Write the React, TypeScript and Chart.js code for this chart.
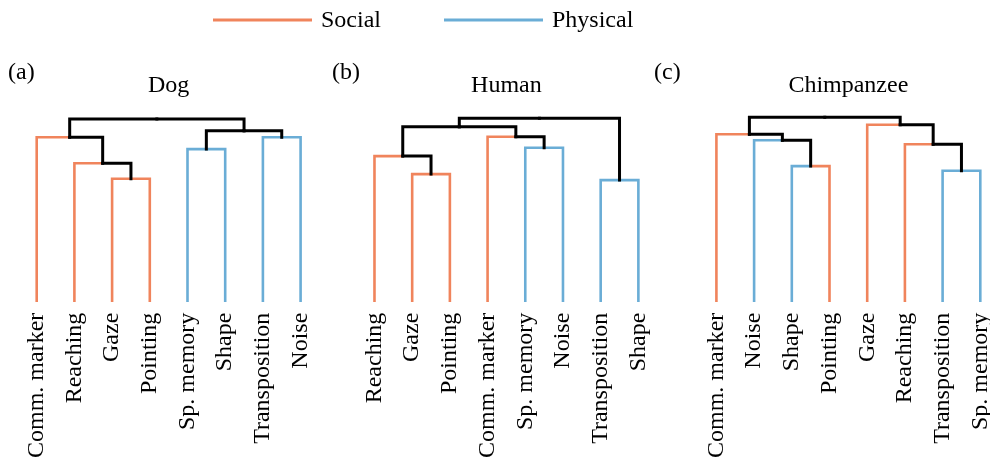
import React, { useEffect, useRef } from "react";
import { Chart, registerables } from "chart.js";

Chart.register(...registerables);

// ---------------- data ----------------
const LEGEND_LABELS = ["Social", "Physical"];
const PANEL_TITLES = ["Dog", "Human", "Chimpanzee"];
const PANEL_TAGS = ["(a)", "(b)", "(c)"];

// leaf order (left to right) and category: 0 = Social, 1 = Physical
const dogLeaves = ["Comm. marker", "Reaching", "Gaze", "Pointing", "Sp. memory", "Shape", "Transposition", "Noise"];
const dogTypes = [0, 0, 0, 0, 1, 1, 1, 1];
// merges: [child A, child B, height]; indices >= 8 refer to earlier merges
const dogMerges = [
  [2, 3, 0.61],
  [1, 8, 0.687],
  [0, 9, 0.817],
  [4, 5, 0.758],
  [6, 7, 0.817],
  [11, 12, 0.85],
  [10, 13, 0.908],
];

const humanLeaves = ["Reaching", "Gaze", "Pointing", "Comm. marker", "Sp. memory", "Noise", "Transposition", "Shape"];
const humanTypes = [0, 0, 0, 0, 1, 1, 1, 1];
const humanMerges = [
  [1, 2, 0.633],
  [0, 8, 0.723],
  [4, 5, 0.765],
  [3, 10, 0.82],
  [9, 11, 0.87],
  [6, 7, 0.603],
  [12, 13, 0.912],
];

const chimpLeaves = ["Comm. marker", "Noise", "Shape", "Pointing", "Gaze", "Reaching", "Transposition", "Sp. memory"];
const chimpTypes = [0, 1, 1, 0, 0, 0, 1, 1];
const chimpMerges = [
  [2, 3, 0.673],
  [1, 8, 0.802],
  [0, 9, 0.832],
  [6, 7, 0.65],
  [5, 11, 0.782],
  [4, 12, 0.88],
  [10, 13, 0.917],
];

// ---------------- style / layout ----------------
const COLORS = ["#F0845C", "#6AADD6"];
const LINK_COLOR = "#000000";
const FONT = "'Liberation Serif', 'Times New Roman', serif";
const FONT_SIZE = 24;
const PANEL_START = [0, 8.96, 18.03];
const TAG_X = [8, 332, 654];
const LEGEND_X = [213, 444];

type Seg = { data: { x: number; y: number }[]; color: string; leaf: boolean };

function buildPanel(leaves: string[], types: number[], merges: number[][], start: number): Seg[] {
  const nodes = leaves.map((_, i) => ({ x: start + i, y: 0, leaf: true, type: types[i] }));
  const segs: Seg[] = [];
  merges.forEach(([a, b, h]) => {
    const A = nodes[a];
    const B = nodes[b];
    const cx = (A.x + B.x) / 2;
    [A, B].forEach((c) => {
      segs.push({
        data: [
          { x: c.x, y: c.y },
          { x: c.x, y: h },
          { x: cx, y: h },
        ],
        color: c.leaf ? COLORS[c.type] : LINK_COLOR,
        leaf: c.leaf,
      });
    });
    nodes.push({ x: cx, y: h, leaf: false, type: -1 });
  });
  return segs;
}

const PANELS = [
  { leaves: dogLeaves, types: dogTypes, merges: dogMerges },
  { leaves: humanLeaves, types: humanTypes, merges: humanMerges },
  { leaves: chimpLeaves, types: chimpTypes, merges: chimpMerges },
];

const LEAF_NAMES: string[] = [];
const LEAF_POS: number[] = [];
PANELS.forEach((p, pi) => {
  p.leaves.forEach((name, i) => {
    LEAF_NAMES.push(name);
    LEAF_POS.push(PANEL_START[pi] + i);
  });
});

const decorPlugin = {
  id: "decor",
  afterDraw(chart: any) {
    const ctx = chart.ctx;
    const xs = chart.scales.x;
    ctx.save();
    ctx.fillStyle = "#000";
    ctx.font = `${FONT_SIZE}px ${FONT}`;
    ctx.textBaseline = "alphabetic";
    // panel titles and tags
    PANELS.forEach((p, pi) => {
      const mid = PANEL_START[pi] + (p.leaves.length - 1) / 2;
      ctx.textAlign = "center";
      ctx.fillText(PANEL_TITLES[pi], xs.getPixelForValue(mid), 92);
      ctx.textAlign = "left";
      ctx.fillText(PANEL_TAGS[pi], TAG_X[pi], 79);
    });
    // legend
    LEGEND_LABELS.forEach((lab, i) => {
      ctx.strokeStyle = COLORS[i];
      ctx.lineWidth = 3;
      ctx.beginPath();
      ctx.moveTo(LEGEND_X[i], 20);
      ctx.lineTo(LEGEND_X[i] + 99, 20);
      ctx.stroke();
      ctx.textAlign = "left";
      ctx.fillText(lab, LEGEND_X[i] + 108, 27);
    });
    ctx.restore();
  },
};

export default function App() {
  const ref = useRef<HTMLCanvasElement | null>(null);
  useEffect(() => {
    if (!ref.current) return;
    const segs: Seg[] = [];
    PANELS.forEach((p, pi) => segs.push(...buildPanel(p.leaves, p.types, p.merges, PANEL_START[pi])));
    const datasets = segs.map((s) => ({
      type: "line" as const,
      data: s.data,
      borderColor: s.color,
      borderWidth: s.leaf ? 2.6 : 3,
      pointRadius: 0,
      fill: false,
      tension: 0,
      clip: false as any,
      borderJoinStyle: "miter" as const,
      borderCapStyle: "square" as const,
      order: s.leaf ? 1 : 0,
    }));
    const chart = new Chart(ref.current, {
      type: "line",
      data: { datasets },
      plugins: [decorPlugin],
      options: {
        animation: false,
        responsive: false,
        events: [],
        layout: { padding: { left: 36.7, right: 9.7, top: 100.7, bottom: 0 } },
        plugins: { legend: { display: false }, tooltip: { enabled: false } },
        scales: {
          x: {
            type: "linear",
            min: 0,
            max: PANEL_START[2] + 7,
            grid: { display: false, drawTicks: false },
            border: { display: false },
            afterBuildTicks: (scale: any) => {
              scale.ticks = LEAF_POS.map((v) => ({ value: v }));
            },
            afterFit: (scale: any) => {
              scale.paddingLeft = 0;
              scale.paddingRight = 0;
              scale.height = 463 - 300.7;
            },
            ticks: {
              autoSkip: false,
              minRotation: 90,
              maxRotation: 90,
              padding: 12,
              color: "#000",
              font: { family: FONT, size: FONT_SIZE },
              callback: (_v: any, i: number) => LEAF_NAMES[i],
            },
          },
          y: { type: "linear", display: false, min: 0, max: 1 },
        },
      },
    });
    return () => chart.destroy();
  }, []);
  return (
    <div style={{ position: "absolute", left: 0, top: 0, width: 990, height: 463, background: "#fff" }}>
      <canvas ref={ref} width={990} height={463} style={{ display: "block" }} />
    </div>
  );
}
